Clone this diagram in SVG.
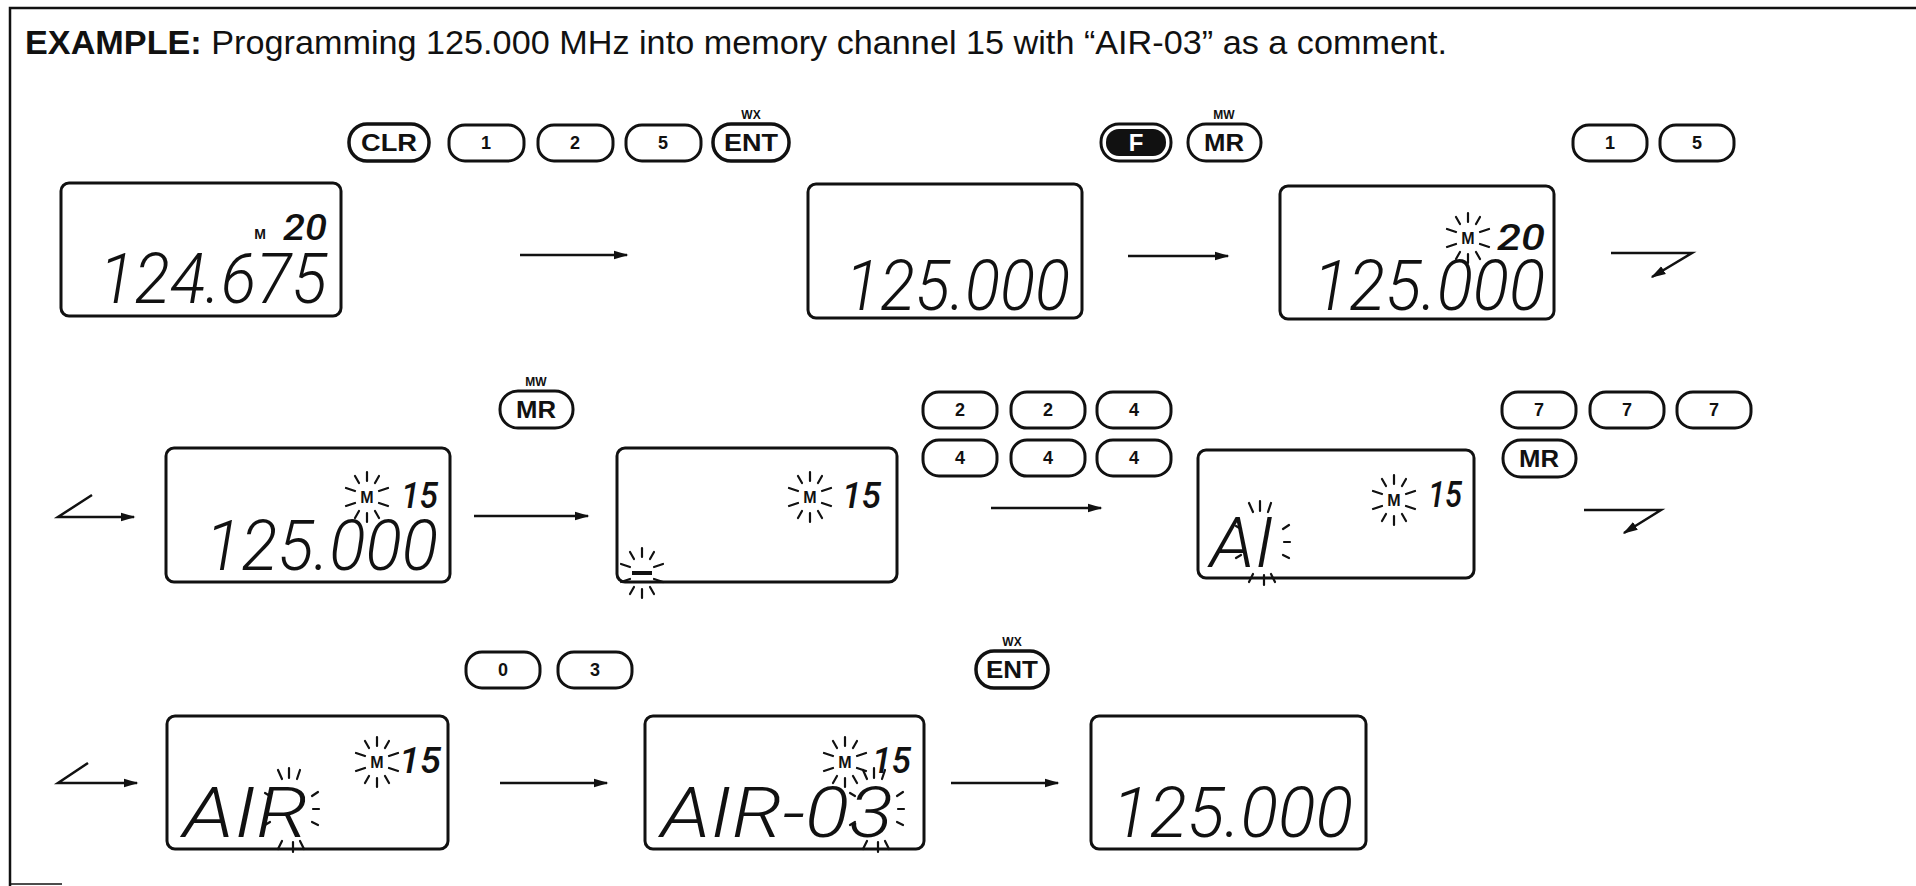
<svg xmlns="http://www.w3.org/2000/svg" width="1916" height="886" viewBox="0 0 1916 886">
<style>
.frame{fill:none;stroke:#111;stroke-width:2.5}
.title{font-family:"Liberation Sans",Arial,sans-serif;font-size:33px;fill:#111}
.key rect{fill:#fff;stroke:#111;stroke-width:3}
.key rect.inv{fill:#111;stroke:none}
.key text{font-family:"Liberation Sans",Arial,sans-serif;font-weight:bold;font-size:18px;text-anchor:middle;fill:#111}
.key text.big{font-size:24px}
.key text.w{fill:#fff}
.key text.sub{font-size:12px}
.lcd rect{fill:#fff;stroke:#111;stroke-width:3}
.seg{font-family:Roboto,"Liberation Sans",sans-serif;font-weight:300;font-style:italic;font-size:70px;fill:#111}
.segs{font-family:Roboto,"Liberation Sans",sans-serif;font-weight:500;font-style:italic;font-size:36px;fill:#111}
.m{font-family:"Liberation Sans",Arial,sans-serif;font-weight:bold;font-size:16px;text-anchor:middle;fill:#111}
.ray{stroke:#111;stroke-width:2.2;stroke-linecap:round;fill:none}
.conn path{fill:none;stroke:#111;stroke-width:2.5;marker-end:url(#ah)}
</style>
<defs>
<marker id="ah" viewBox="0 0 10 10" refX="9" refY="5" markerWidth="6" markerHeight="6" orient="auto" markerUnits="strokeWidth">
<path d="M0,2 L10,5 L0,8 z" fill="#111"/>
</marker>
<path id="bsmall" class="ray" d="M-8,-14 L-12,-21 M0,-16 L0,-25 M8,-14 L12,-21 M-8,14 L-12,21 M0,16 L0,25 M8,14 L12,21 M-12,-6 L-21,-9 M-12,6 L-21,9 M12,-6 L21,-9 M12,6 L21,9"/>
<path id="bbig" class="ray" d="M-9,-31 L-13,-40 M-2,-32 L-2,-42 M6,-31 L9,-40 M-9,31 L-13,39 M2,32 L2,42 M9,31 L13,39 M-21,-14 L-26,-17 M-21,12 L-26,15 M21,-14 L27,-18 M21,12 L27,15 M22,-1 L28,-1"/>
</defs>

<path class="frame" d="M1916,8 H10 V886"/>
<path class="frame" d="M10,884 H62" style="stroke-width:1.5"/>

<text id="title" class="title" x="25" y="54" textLength="1422" lengthAdjust="spacingAndGlyphs"><tspan font-weight="bold">EXAMPLE:</tspan> Programming 125.000 MHz into memory channel 15 with “AIR-03” as a comment.</text>

<!-- Keys row 1 -->
<g id="key-clr" class="key"><rect x="349" y="124" width="80" height="37" rx="18" style="stroke-width:3.5"/><text class="big" x="389" y="151" textLength="56" lengthAdjust="spacingAndGlyphs">CLR</text></g>
<g id="key-1a" class="key"><rect x="449" y="125" width="75" height="36" rx="16"/><text x="486" y="149">1</text></g>
<g id="key-2a" class="key"><rect x="538" y="125" width="75" height="36" rx="16"/><text x="575" y="149">2</text></g>
<g id="key-5a" class="key"><rect x="626" y="125" width="75" height="36" rx="16"/><text x="663" y="149">5</text></g>
<g id="key-enta" class="key"><text class="sub" x="751" y="119">WX</text><rect x="713" y="124" width="76" height="37" rx="18" style="stroke-width:3.5"/><text class="big" x="751" y="151" textLength="54" lengthAdjust="spacingAndGlyphs">ENT</text></g>
<g id="key-f" class="key"><rect x="1101" y="124" width="70" height="37" rx="18"/><rect class="inv" x="1106" y="129" width="60" height="27" rx="13"/><text class="w big" x="1136" y="151">F</text></g>
<g id="key-mra" class="key"><text class="sub" x="1224" y="119">MW</text><rect x="1188" y="124" width="73" height="37" rx="18"/><text class="big" x="1224" y="151" textLength="40" lengthAdjust="spacingAndGlyphs">MR</text></g>
<g id="key-1b" class="key"><rect x="1573" y="125" width="74" height="36" rx="16"/><text x="1610" y="149">1</text></g>
<g id="key-5b" class="key"><rect x="1660" y="125" width="74" height="36" rx="16"/><text x="1697" y="149">5</text></g>

<!-- Keys row 2 -->
<g id="key-mrb" class="key"><text class="sub" x="536" y="386">MW</text><rect x="500" y="391" width="73" height="37" rx="18"/><text class="big" x="536" y="418" textLength="40" lengthAdjust="spacingAndGlyphs">MR</text></g>
<g id="key-2b" class="key"><rect x="923" y="392" width="74" height="36" rx="16"/><text x="960" y="416">2</text></g>
<g id="key-2c" class="key"><rect x="1011" y="392" width="74" height="36" rx="16"/><text x="1048" y="416">2</text></g>
<g id="key-4a" class="key"><rect x="1097" y="392" width="74" height="36" rx="16"/><text x="1134" y="416">4</text></g>
<g id="key-4b" class="key"><rect x="923" y="440" width="74" height="36" rx="16"/><text x="960" y="464">4</text></g>
<g id="key-4c" class="key"><rect x="1011" y="440" width="74" height="36" rx="16"/><text x="1048" y="464">4</text></g>
<g id="key-4d" class="key"><rect x="1097" y="440" width="74" height="36" rx="16"/><text x="1134" y="464">4</text></g>
<g id="key-7a" class="key"><rect x="1502" y="392" width="74" height="36" rx="16"/><text x="1539" y="416">7</text></g>
<g id="key-7b" class="key"><rect x="1590" y="392" width="74" height="36" rx="16"/><text x="1627" y="416">7</text></g>
<g id="key-7c" class="key"><rect x="1677" y="392" width="74" height="36" rx="16"/><text x="1714" y="416">7</text></g>
<g id="key-mrc" class="key"><rect x="1503" y="440" width="73" height="37" rx="18"/><text class="big" x="1539" y="467" textLength="40" lengthAdjust="spacingAndGlyphs">MR</text></g>

<!-- Keys row 3 -->
<g id="key-0" class="key"><rect x="466" y="652" width="74" height="36" rx="16"/><text x="503" y="676">0</text></g>
<g id="key-3" class="key"><rect x="558" y="652" width="74" height="36" rx="16"/><text x="595" y="676">3</text></g>
<g id="key-entb" class="key"><text class="sub" x="1012" y="646">WX</text><rect x="976" y="651" width="72" height="37" rx="18" style="stroke-width:3.5"/><text class="big" x="1012" y="678" textLength="52" lengthAdjust="spacingAndGlyphs">ENT</text></g>

<!-- LCDs -->
<g id="lcd1" class="lcd"><rect x="61" y="183" width="280" height="133" rx="8"/>
<text class="m" x="260" y="239" style="font-size:14px">M</text>
<text class="segs" x="283" y="240" textLength="44" lengthAdjust="spacingAndGlyphs">20</text>
<text class="seg" x="99" y="303" textLength="228" lengthAdjust="spacingAndGlyphs">124.675</text></g>

<g id="lcd2" class="lcd"><rect x="808" y="184" width="274" height="134" rx="8"/>
<text class="seg" x="845" y="310" textLength="225" lengthAdjust="spacingAndGlyphs">125.000</text></g>

<g id="lcd3" class="lcd"><rect x="1280" y="186" width="274" height="133" rx="8"/>
<use href="#bsmall" x="1468" y="238"/><text class="m" x="1468" y="244">M</text>
<text class="segs" x="1497" y="250" textLength="48" lengthAdjust="spacingAndGlyphs">20</text>
<text class="seg" x="1313" y="310" textLength="232" lengthAdjust="spacingAndGlyphs">125.000</text></g>

<g id="lcd4" class="lcd"><rect x="166" y="448" width="284" height="134" rx="8"/>
<use href="#bsmall" x="367" y="497"/><text class="m" x="367" y="503">M</text>
<text class="segs" x="401" y="508" textLength="37" lengthAdjust="spacingAndGlyphs">15</text>
<text class="seg" x="205" y="570" textLength="233" lengthAdjust="spacingAndGlyphs">125.000</text></g>

<g id="lcd5" class="lcd"><rect x="617" y="448" width="280" height="134" rx="8"/>
<use href="#bsmall" x="810" y="497"/><text class="m" x="810" y="503">M</text>
<text class="segs" x="842" y="508" textLength="39" lengthAdjust="spacingAndGlyphs">15</text>
<path d="M632,573 H652" style="stroke:#111;stroke-width:4"/>
<use href="#bsmall" x="642" y="573"/></g>

<g id="lcd6" class="lcd"><rect x="1198" y="450" width="276" height="128" rx="8"/>
<use href="#bsmall" x="1394" y="500"/><text class="m" x="1394" y="506">M</text>
<text class="segs" x="1428" y="507" textLength="34" lengthAdjust="spacingAndGlyphs">15</text>
<text class="seg" x="1210" y="567" textLength="64" lengthAdjust="spacingAndGlyphs">AI</text>
<use href="#bbig" x="1262" y="543"/></g>

<g id="lcd7" class="lcd"><rect x="167" y="716" width="281" height="133" rx="8"/>
<use href="#bsmall" x="377" y="762"/><text class="m" x="377" y="768">M</text>
<text class="segs" x="399" y="773" textLength="42" lengthAdjust="spacingAndGlyphs">15</text>
<text class="seg" x="183" y="837" textLength="125" lengthAdjust="spacingAndGlyphs">AIR</text>
<use href="#bbig" x="291" y="810"/></g>

<g id="lcd8" class="lcd"><rect x="645" y="716" width="279" height="133" rx="8"/>
<use href="#bsmall" x="845" y="762"/><text class="m" x="845" y="768">M</text>
<text class="segs" x="872" y="773" textLength="39" lengthAdjust="spacingAndGlyphs">15</text>
<text class="seg" x="661" y="837" textLength="232" lengthAdjust="spacingAndGlyphs">AIR-03</text>
<use href="#bbig" x="876" y="810"/></g>

<g id="lcd9" class="lcd"><rect x="1091" y="716" width="275" height="133" rx="8"/>
<text class="seg" x="1112" y="837" textLength="241" lengthAdjust="spacingAndGlyphs">125.000</text></g>

<!-- Connectors -->
<g id="connectors" class="conn">
<path d="M520,255 H627"/>
<path d="M1128,256 H1228"/>
<path d="M1611,253 H1692 L1652,277"/>
<path d="M92,495 L58,517 H134"/>
<path d="M474,516 H588"/>
<path d="M991,508 H1101"/>
<path d="M1584,510 H1661 L1624,533"/>
<path d="M88,763 L58,783 H137"/>
<path d="M500,783 H607"/>
<path d="M951,783 H1058"/>
</g>
</svg>
